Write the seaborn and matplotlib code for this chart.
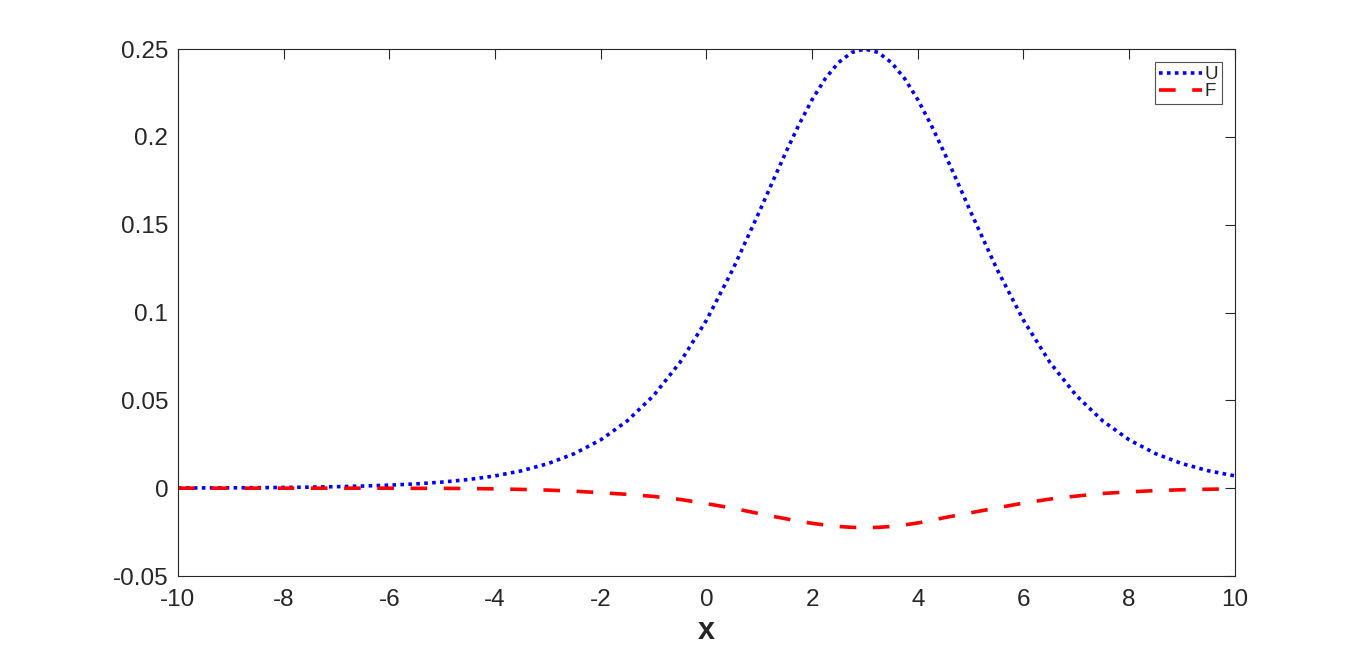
import numpy as np
import pandas as pd
import matplotlib
matplotlib.use("Agg")
import matplotlib.pyplot as plt
import seaborn as sns

# values (step 0.5, finer near the peak)
x_vals = [-10.0, -9.5, -9.0, -8.5, -8.0, -7.5, -7.0, -6.5, -6.0, -5.5,
          -5.0, -4.5, -4.0, -3.5, -3.0, -2.5, -2.0, -1.5, -1.0, -0.5,
          0.0, 0.5, 1.0, 1.25, 1.5, 1.75, 2.0, 2.25, 2.5, 2.75, 3.0,
          3.25, 3.5, 3.75, 4.0, 4.25, 4.5, 4.75,
          5.0, 5.5, 6.0, 6.5, 7.0, 7.5, 8.0, 8.5, 9.0, 9.5, 10.0]

u_vals = [0.00010, 0.00014, 0.00021, 0.00029, 0.00042, 0.00060, 0.00085, 0.00121, 0.00172, 0.00244,
          0.00347, 0.00493, 0.00699, 0.00989, 0.01397, 0.01965, 0.02751, 0.03826, 0.05269, 0.07161,
          0.09558, 0.12456, 0.15732, 0.17431, 0.19104, 0.20689, 0.22118, 0.23321, 0.24234, 0.24806, 0.25000,
          0.24806, 0.24234, 0.23321, 0.22118, 0.20689, 0.19104, 0.17431,
          0.15732, 0.12456, 0.09558, 0.07161, 0.05269, 0.03826, 0.02751, 0.01965, 0.01397, 0.00989, 0.00699]

f_vals = [0.0, 0.0, 0.0, 0.0, 0.0, 0.0, 0.0, 0.0, 0.0, -0.0001,
          -0.0001, -0.0002, -0.0004, -0.0007, -0.0011, -0.0017, -0.0026, -0.0035, -0.0047, -0.0064,
          -0.0088, -0.0114, -0.0145, -0.0160, -0.0174, -0.0188, -0.0200, -0.0210, -0.0218, -0.0223, -0.0225,
          -0.0223, -0.0218, -0.0209, -0.0198, -0.0184, -0.0168, -0.0154,
          -0.0140, -0.0112, -0.0085, -0.0062, -0.0045, -0.0030, -0.0021, -0.0014, -0.0009, -0.0006, -0.0004]

x_ticks = [-10, -8, -6, -4, -2, 0, 2, 4, 6, 8, 10]
y_ticks = [-0.05, 0, 0.05, 0.1, 0.15, 0.2, 0.25]
y_labels = ["-0.05", "0", "0.05", "0.1", "0.15", "0.2", "0.25"]

sns.set_style("white")
plt.rcParams['font.family'] = ['Liberation Sans', 'DejaVu Sans']

df = pd.DataFrame({"x": x_vals, "U": u_vals, "F": f_vals})

fig = plt.figure(figsize=(13.66, 6.51), dpi=100)
ax = fig.add_axes([0.1303, 0.1152, 0.904 - 0.1303, 0.9247 - 0.1152])

sns.lineplot(data=df, x="x", y="U", ax=ax, color="#0000FF", linewidth=2.6,
             label="U", dashes=False)
sns.lineplot(data=df, x="x", y="F", ax=ax, color="#FF0000", linewidth=2.6,
             label="F", dashes=False)
ax.lines[0].set_dashes([1.0, 1.2])
ax.lines[1].set_dashes([4.6, 4.6])

ax.set_xlim(-10, 10)
ax.set_ylim(-0.05, 0.25)
ax.set_xticks(x_ticks)
ax.set_xticklabels([str(t) for t in x_ticks])
ax.set_yticks(y_ticks)
ax.set_yticklabels(y_labels)

ax.tick_params(direction="in", length=7, width=0.8, top=True, right=True,
               labelsize=17.5, labelcolor="#262626", color="#262626")
ax.tick_params(axis="x", pad=9)
ax.tick_params(axis="y", pad=7)
for sp in ax.spines.values():
    sp.set_color("#262626")
    sp.set_linewidth(0.8)

ax.set_xlabel("x", fontsize=22, fontweight="bold", color="#262626", labelpad=4)
ax.set_ylabel("")

leg = ax.legend(loc="upper right", bbox_to_anchor=(0.988, 0.975), fontsize=13.5,
                frameon=True, fancybox=False, edgecolor="#262626",
                handlelength=2.3, handletextpad=0.15, labelspacing=0.0,
                borderpad=0.2, borderaxespad=0)
leg.get_frame().set_linewidth(0.8)
for line in leg.get_lines():
    line.set_linewidth(2.6)
leg.get_lines()[0].set_dashes([1.0, 1.2])
leg.get_lines()[1].set_dashes([4.6, 4.6])

fig.savefig("out.png", dpi=100, facecolor="white")
